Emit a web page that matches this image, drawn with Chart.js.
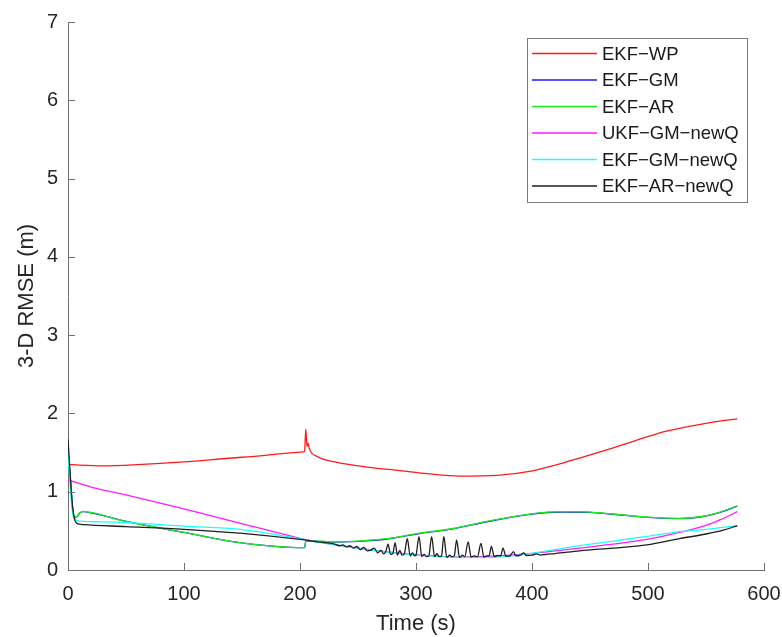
<!DOCTYPE html>
<html>
<head>
<meta charset="utf-8">
<script src="https://cdn.jsdelivr.net/npm/chart.js@4.4.1/dist/chart.umd.min.js"></script>
<style>
  html, body { margin: 0; padding: 0; background: #fff; }
  #rmse_chart { display: block; }
</style>
</head>
<body>
<canvas id="rmse_chart" width="782" height="637"></canvas>
<script>
// time axis ticks
let time_ticks = [0, 100, 200, 300, 400, 500, 600];
let rmse_ticks = [0, 1, 2, 3, 4, 5, 6, 7];

let series_labels = ["EKF−WP", "EKF−GM", "EKF−AR", "UKF−GM−newQ", "EKF−GM−newQ", "EKF−AR−newQ"];
let series_colors = ["#ff1a1a", "#1a1aff", "#1aee1a", "#ff1aff", "#1affff", "#1e1e1e"];

// EKF-WP
let wp_time = [0, 10, 30, 60, 100, 150, 203, 204, 205, 206, 207, 208, 215, 230, 260, 286, 310, 338, 370, 398, 420, 441, 470, 499, 515, 527, 556, 577];
let wp_rmse = [1.35, 1.34, 1.33, 1.345, 1.38, 1.44, 1.51, 1.52, 1.80, 1.58, 1.62, 1.55, 1.45, 1.38, 1.31, 1.27, 1.23, 1.20, 1.21, 1.26, 1.34, 1.43, 1.56, 1.70, 1.77, 1.81, 1.89, 1.93];

// EKF-AR
let ar_time = [0, 1, 2.5, 4, 6, 8, 10, 13, 20, 50, 100, 148, 203, 204, 205, 230, 250, 275, 303, 332, 361, 398, 427, 450, 470, 500, 527, 545, 560, 577];
let ar_rmse = [1.53, 1.35, 1.06, 0.78, 0.68, 0.69, 0.73, 0.75, 0.735, 0.62, 0.48, 0.35, 0.285, 0.285, 0.375, 0.36, 0.37, 0.40, 0.47, 0.53, 0.62, 0.715, 0.745, 0.74, 0.715, 0.675, 0.66, 0.68, 0.73, 0.82];

// EKF-GM (runs almost on top of EKF-AR)
let gm_time = [0, 1, 2.5, 4, 6, 8, 10, 13, 20, 50, 100, 148, 203, 204, 205, 230, 250, 275, 303, 332, 361, 398, 427, 450, 470, 500, 527, 545, 560, 577];
let gm_rmse = [1.53, 1.35, 1.06, 0.78, 0.675, 0.685, 0.725, 0.745, 0.73, 0.62, 0.48, 0.35, 0.285, 0.285, 0.372, 0.357, 0.366, 0.396, 0.466, 0.526, 0.616, 0.711, 0.741, 0.737, 0.712, 0.672, 0.657, 0.677, 0.727, 0.815];

// UKF-GM-newQ
let ukf_time = [0, 20, 50, 100, 148, 200, 215, 263, 290, 320, 340, 370, 398, 441, 470, 499, 527, 550, 562, 577];
let ukf_rmse = [1.15, 1.06, 0.96, 0.78, 0.60, 0.405, 0.36, 0.255, 0.21, 0.175, 0.165, 0.18, 0.21, 0.28, 0.33, 0.39, 0.48, 0.57, 0.64, 0.745];

// EKF-GM-newQ
let gmq_time = [0, 2, 4, 6, 10, 30, 60, 100, 148, 200, 215, 263, 290, 320, 350, 380, 398, 441, 470, 499, 527, 550, 577];
let gmq_rmse = [1.5, 1.05, 0.72, 0.645, 0.625, 0.615, 0.60, 0.56, 0.52, 0.40, 0.36, 0.25, 0.205, 0.17, 0.16, 0.175, 0.21, 0.31, 0.37, 0.43, 0.49, 0.52, 0.565];

// EKF-AR-newQ (oscillates between 230 s and 400 s)
let arq_time = [0, 2, 4, 6, 8, 10, 13, 50, 100, 148, 200, 215, 230,
  234, 237, 240, 243, 246, 249, 252, 255, 258, 261, 264, 267, 270, 272, 274, 276, 278, 280, 282, 284, 286, 288, 290,
  292.5, 295, 297, 299, 300, 302.6, 305, 307, 309, 311, 313.5, 316, 318, 320, 322, 324, 326.5, 329, 331, 333,
  335, 337.5, 340, 342, 345, 347.5, 350, 353, 356, 358.5, 361, 363, 365, 367.5, 370, 373, 375, 377.5, 381,
  384, 386, 390, 393, 395, 400, 404, 407, 412, 420, 441, 470, 499, 527, 550, 565, 577];
let arq_rmse = [1.67, 1.2, 0.8, 0.63, 0.595, 0.585, 0.58, 0.555, 0.52, 0.47, 0.39, 0.36, 0.33,
  0.31, 0.32, 0.295, 0.31, 0.28, 0.30, 0.26, 0.29, 0.245, 0.255, 0.28, 0.22, 0.25, 0.205, 0.24, 0.33, 0.20, 0.21, 0.35, 0.19, 0.25, 0.19, 0.21,
  0.40, 0.18, 0.22, 0.18, 0.19, 0.425, 0.17, 0.20, 0.17, 0.18, 0.425, 0.17, 0.21, 0.17, 0.18, 0.43, 0.16, 0.19, 0.17, 0.18,
  0.38, 0.16, 0.19, 0.17, 0.36, 0.165, 0.18, 0.17, 0.34, 0.165, 0.18, 0.18, 0.30, 0.17, 0.185, 0.18, 0.28, 0.175, 0.18,
  0.235, 0.18, 0.19, 0.22, 0.185, 0.19, 0.205, 0.19, 0.20, 0.21, 0.245, 0.28, 0.32, 0.40, 0.46, 0.51, 0.565];

function to_points(times, values) {
  return times.map((t, i) => ({ x: t, y: values[i] }));
}

let all_series = [
  [wp_time, wp_rmse],
  [gm_time, gm_rmse],
  [ar_time, ar_rmse],
  [ukf_time, ukf_rmse],
  [gmq_time, gmq_rmse],
  [arq_time, arq_rmse]
];

const axis_color = "#707070";
const text_color = "#262626";
const font_family = "'Liberation Sans', Arial, Helvetica, sans-serif";

// short tick marks pointing into the plot
const inward_ticks = {
  id: 'inward_ticks',
  afterDraw(chart) {
    const ctx = chart.ctx;
    const x = chart.scales.x;
    const y = chart.scales.y;
    ctx.save();
    ctx.strokeStyle = axis_color;
    ctx.lineWidth = 1;
    ctx.beginPath();
    time_ticks.forEach(t => {
      const px = Math.round(x.getPixelForValue(t)) + 0.5;
      ctx.moveTo(px, y.bottom);
      ctx.lineTo(px, y.bottom - 7);
    });
    rmse_ticks.forEach(v => {
      const py = Math.round(y.getPixelForValue(v)) + 0.5;
      ctx.moveTo(x.left, py);
      ctx.lineTo(x.left + 7, py);
    });
    ctx.stroke();
    ctx.restore();
  }
};

// boxed legend in the upper right corner of the plot
const box_legend = {
  id: 'box_legend',
  afterDraw(chart) {
    const ctx = chart.ctx;
    const left = 527, top = 38, width = 220, height = 164;
    const row_gap = 26.5, first_row = 53.5;
    ctx.save();
    ctx.fillStyle = "#ffffff";
    ctx.fillRect(left, top, width, height);
    ctx.strokeStyle = "#7a7a7a";
    ctx.lineWidth = 1;
    ctx.strokeRect(left + 0.5, top + 0.5, width, height);
    ctx.font = "18.5px " + font_family;
    ctx.textBaseline = "middle";
    ctx.textAlign = "left";
    series_labels.forEach((label, i) => {
      const ry = first_row + i * row_gap;
      ctx.strokeStyle = series_colors[i];
      ctx.lineWidth = 1.3;
      ctx.beginPath();
      ctx.moveTo(532, ry);
      ctx.lineTo(597, ry);
      ctx.stroke();
      ctx.fillStyle = "#1a1a1a";
      ctx.fillText(label, 602, ry + 1);
    });
    ctx.restore();
  }
};

const ctx = document.getElementById('rmse_chart').getContext('2d');

let chart = new Chart(ctx, {
  type: 'line',
  data: {
    datasets: all_series.map((s, i) => ({
      label: series_labels[i],
      data: to_points(s[0], s[1]),
      borderColor: series_colors[i],
      borderWidth: 1.3,
      pointRadius: 0,
      cubicInterpolationMode: 'monotone',
      fill: false,
      // later series are drawn on top
      order: all_series.length - i
    }))
  },
  options: {
    responsive: false,
    animation: false,
    devicePixelRatio: 1,
    layout: { padding: { top: 22, right: 18, left: 0, bottom: 0 } },
    plugins: {
      legend: { display: false },
      tooltip: { enabled: false }
    },
    scales: {
      x: {
        type: 'linear',
        min: 0,
        max: 600,
        afterFit(scale) {
          scale.height = 67;
          scale.paddingLeft = 0;
          scale.paddingRight = 0;
        },
        afterBuildTicks(scale) { scale.ticks = time_ticks.map(v => ({ value: v })); },
        ticks: {
          color: text_color,
          font: { family: font_family, size: 20 },
          padding: 12,
          maxRotation: 0
        },
        grid: { display: false, drawTicks: false },
        border: { display: true, color: axis_color, width: 1 },
        title: {
          display: true,
          text: 'Time (s)',
          color: text_color,
          font: { family: font_family, size: 22 },
          padding: { top: 0, bottom: 0 }
        }
      },
      y: {
        type: 'linear',
        min: 0,
        max: 7,
        afterFit(scale) {
          scale.width = 68;
          scale.paddingTop = 0;
          scale.paddingBottom = 0;
        },
        afterBuildTicks(scale) { scale.ticks = rmse_ticks.map(v => ({ value: v })); },
        ticks: {
          color: text_color,
          font: { family: font_family, size: 20 },
          padding: 10
        },
        grid: { display: false, drawTicks: false },
        border: { display: true, color: axis_color, width: 1 },
        title: {
          display: true,
          text: '3-D RMSE (m)',
          color: text_color,
          font: { family: font_family, size: 22 },
          padding: { top: 14, bottom: 0 }
        }
      }
    }
  },
  plugins: [inward_ticks, box_legend]
});
</script>
</body>
</html>
